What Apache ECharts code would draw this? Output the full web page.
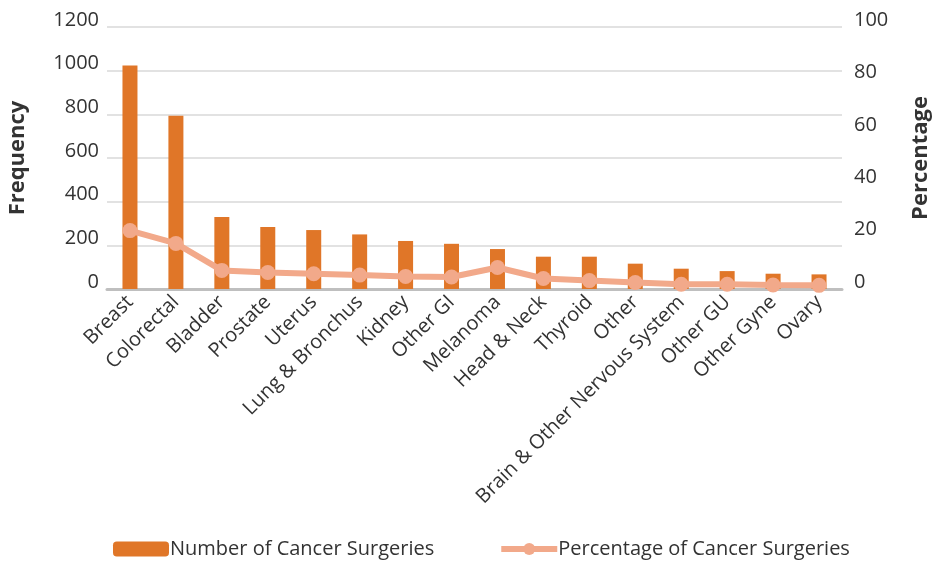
<!DOCTYPE html>
<html>
<head>
<meta charset="utf-8">
<script src="https://cdn.jsdelivr.net/npm/echarts@6/dist/echarts.min.js"></script>
<style>
  html, body { margin: 0; padding: 0; background: #fff; }
  #main { width: 934px; height: 567px; }
</style>
</head>
<body>
<div id="main"></div>
<script>
var categories = ['Breast', 'Colorectal', 'Bladder', 'Prostate', 'Uterus', 'Lung & Bronchus', 'Kidney', 'Other GI',
    'Melanoma', 'Head & Neck', 'Thyroid', 'Other', 'Brain & Other Nervous System', 'Other GU', 'Other Gyne', 'Ovary'];
var surgeries = [1024, 794, 330, 284, 270, 250, 220, 207, 183, 148, 148, 116, 93, 82, 70, 67];
var percentages = [22.3, 17.4, 7.1, 6.3, 5.8, 5.3, 4.8, 4.6, 8.2, 4.0, 3.2, 2.5, 1.8, 1.8, 1.5, 1.4];
var leftTicks = [0, 1200, 200];
var rightTicks = [0, 100, 20];

var font = '"Open Sans", sans-serif';
var txt = '#333';
var lineColor = '#f2a98a';

var myChart = echarts.init(document.getElementById('main'));
var option = {
    animation: false,
    textStyle: { fontFamily: font },
    grid: {
        left: 107,
        right: 92,
        top: 27,
        bottom: 278,
        outerBoundsMode: 'none'
    },
    legend: {
        data: [
            { name: 'Number of Cancer Surgeries' },
            { name: 'Percentage of Cancer Surgeries', lineStyle: { width: 6, color: lineColor } }
        ],
        left: 108,
        bottom: 3,
        itemWidth: 56,
        itemHeight: 15,
        itemGap: 64,
        textStyle: { fontSize: 20, color: txt, fontFamily: font, padding: [0, 0, 0, -4] }
    },
    xAxis: {
        type: 'category',
        data: categories,
        axisTick: { show: false },
        axisLine: { lineStyle: { color: '#bfbfbf', width: 3 } },
        axisLabel: {
            interval: 0,
            rotate: 45,
            fontSize: 20,
            color: txt,
            margin: 10
        }
    },
    yAxis: [{
        type: 'value',
        min: leftTicks[0],
        max: leftTicks[1],
        interval: leftTicks[2],
        name: 'Frequency',
        nameLocation: 'middle',
        nameGap: 78,
        nameTextStyle: { fontSize: 22, fontWeight: 'bold', color: txt },
        axisLine: { show: false },
        axisTick: { show: false },
        axisLabel: {
            fontSize: 20, color: txt, margin: 8,
            verticalAlign: 'bottom', lineHeight: 14,
            formatter: function (v) { return String(v); }
        },
        splitLine: { lineStyle: { color: '#d9d9d9', width: 1.5 } }
    }, {
        type: 'value',
        min: rightTicks[0],
        max: rightTicks[1],
        interval: rightTicks[2],
        name: 'Percentage',
        nameLocation: 'middle',
        nameGap: 68,
        nameRotate: 90,
        nameTextStyle: { fontSize: 22, fontWeight: 'bold', color: txt },
        axisLine: { show: false },
        axisTick: { show: false },
        axisLabel: { fontSize: 20, color: txt, margin: 12, verticalAlign: 'bottom', lineHeight: 14 },
        splitLine: { show: false }
    }],
    series: [{
        name: 'Number of Cancer Surgeries',
        type: 'bar',
        data: surgeries,
        barWidth: 15,
        itemStyle: { color: '#e07628' }
    }, {
        name: 'Percentage of Cancer Surgeries',
        type: 'line',
        yAxisIndex: 1,
        data: percentages,
        symbol: 'circle',
        symbolSize: 15,
        lineStyle: { color: lineColor, width: 6 },
        itemStyle: { color: lineColor }
    }]
};
myChart.setOption(option);
</script>
</body>
</html>
